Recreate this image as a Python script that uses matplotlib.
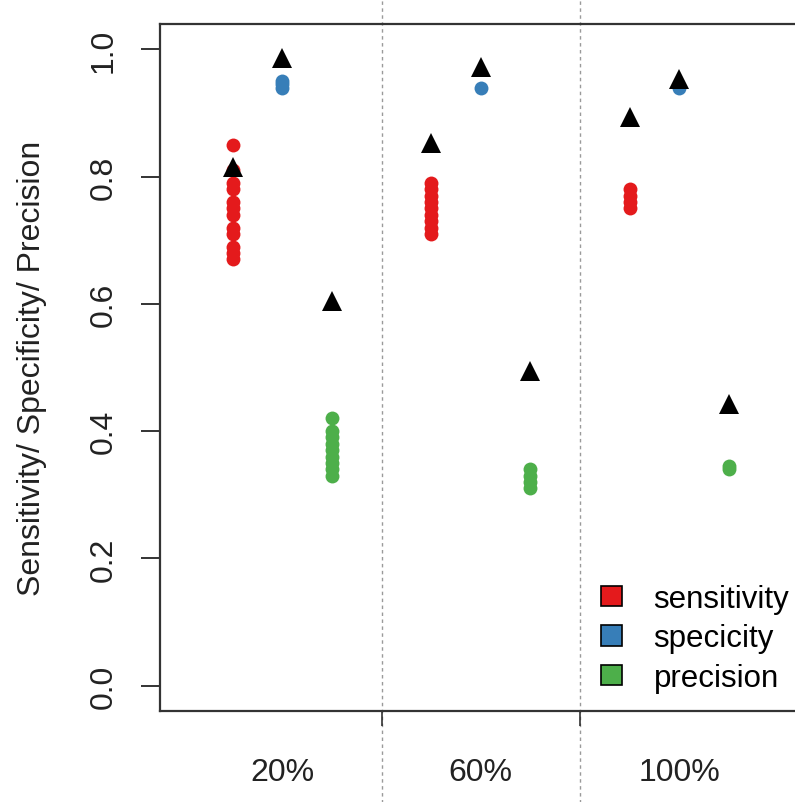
import numpy as np
import matplotlib.pyplot as plt
from matplotlib.patches import Patch
from matplotlib.transforms import blended_transform_factory

plt.rcParams["font.family"] = ["Liberation Sans", "DejaVu Sans"]

# values
groups = ["20%", "60%", "100%"]
metrics = ["sensitivity", "specicity", "precision"]
colors = ["#E41A1C", "#377EB8", "#4DAF4A"]

sens_20 = [0.85, 0.81, 0.79, 0.78, 0.76, 0.75, 0.74, 0.72, 0.71, 0.69, 0.68, 0.67]
spec_20 = [0.95, 0.945, 0.94]
prec_20 = [0.42, 0.40, 0.39, 0.38, 0.37, 0.36, 0.35, 0.34, 0.33]
sens_60 = [0.79, 0.78, 0.77, 0.76, 0.75, 0.74, 0.73, 0.72, 0.71]
spec_60 = [0.94]
prec_60 = [0.34, 0.33, 0.32, 0.31]
sens_100 = [0.78, 0.77, 0.76, 0.75]
spec_100 = [0.94]
prec_100 = [0.345, 0.34]

# black triangles (reference values), order: sens, spec, prec per group
ref_20 = [0.815, 0.986, 0.604]
ref_60 = [0.853, 0.973, 0.494]
ref_100 = [0.894, 0.954, 0.443]

points = [
    [sens_20, spec_20, prec_20],
    [sens_60, spec_60, prec_60],
    [sens_100, spec_100, prec_100],
]
refs = [ref_20, ref_60, ref_100]

fig = plt.figure(figsize=(7.95, 8.03), dpi=100)
ax = fig.add_axes([160 / 795, 91 / 803, 668 / 795, 687 / 803])

for g in range(3):
    for m in range(3):
        x = g * 4 + m + 1
        vals = points[g][m]
        ax.plot([x] * len(vals), vals, "o", color=colors[m], ms=10, mew=0)
        ax.plot(x, refs[g][m], "^", color="black", ms=14.5, mew=0)

ax.set_xlim(-0.47, 13)
ax.set_ylim(-0.04, 1.04)

# dotted separators between groups, running past the plot box
trans = blended_transform_factory(ax.transData, ax.transAxes)
for sep in [4, 8]:
    ax.plot([sep, sep], [-0.14, 1.04], transform=trans, color="#9a9a9a",
            lw=1, ls=(0, (2.5, 2.5)), clip_on=False, zorder=0)

ax.set_yticks([0, 0.2, 0.4, 0.6, 0.8, 1.0])
ax.set_yticklabels(["0.0", "0.2", "0.4", "0.6", "0.8", "1.0"], rotation=90,
                   va="center", fontsize=23, color="#222222")
ax.tick_params(axis="y", length=13.5, width=1.4, pad=16, color="#333333")

ax.set_xticks([2, 6, 10])
ax.set_xticklabels(groups, fontsize=23, color="#222222")
ax.set_xticks([4, 8], minor=True)
ax.tick_params(axis="x", which="major", length=0, pad=33)
ax.tick_params(axis="x", which="minor", length=11, width=1.1, color="#222222")

ax.set_ylabel("Sensitivity/ Specificity/ Precision", fontsize=23,
              color="#222222", labelpad=30)

for side in ["left", "bottom", "top"]:
    ax.spines[side].set_linewidth(1.6)
    ax.spines[side].set_color("#333333")
ax.spines["right"].set_visible(False)

handles = [Patch(facecolor=c, edgecolor="black", lw=1.2) for c in colors]
fig.legend(handles, metrics, loc="upper left", bbox_to_anchor=(601 / 795, 1 - 585 / 803),
           frameon=False, fontsize=22.5, handlelength=0.68, handleheight=0.62,
           handletextpad=1.0, labelspacing=0.3, borderpad=0, borderaxespad=0)

fig.savefig("out.png", dpi=100)
